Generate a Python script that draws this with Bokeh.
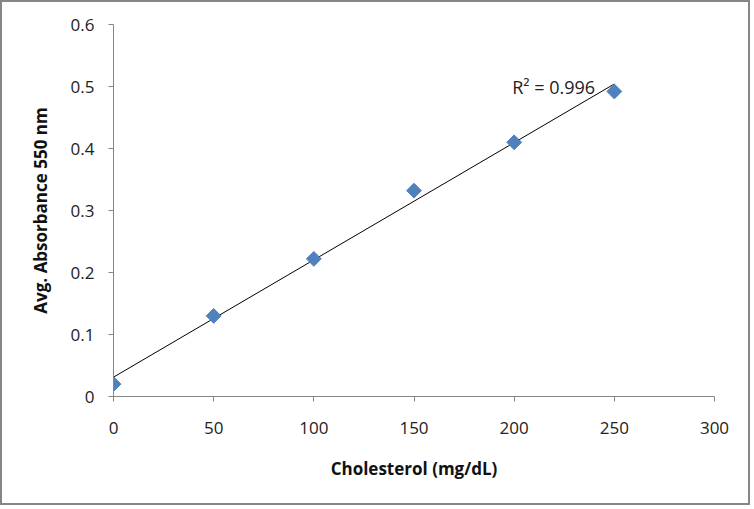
import numpy as np
from bokeh.plotting import figure
from bokeh.models import Range1d, FixedTicker, ColumnDataSource
from bokeh.core.properties import value
from bokeh.embed import file_html
from bokeh.resources import INLINE

# Data
cholesterol = [0, 50, 100, 150, 200, 250]
absorbance = [0.02, 0.13, 0.222, 0.332, 0.41, 0.492]
x_ticks = [0, 50, 100, 150, 200, 250, 300]
y_ticks = [0, 0.1, 0.2, 0.3, 0.4, 0.5, 0.6]
r2_label = "R² = 0.996"

FONT = "Open Sans"
AXIS_COLOR = "#868686"
MARKER_COLOR = "#4F81BD"

# Linear trendline fitted to the data
slope, intercept = np.polyfit(cholesterol, absorbance, 1)
trend_x = [min(cholesterol), max(cholesterol)]
trend_y = [slope * v + intercept for v in trend_x]

p = figure(width=750, height=505, output_backend="svg", toolbar_location=None,
           x_range=Range1d(0, 300), y_range=Range1d(0, 0.6),
           min_border_left=111, min_border_right=38, min_border_top=22, min_border_bottom=111)
p.styles = {"border": "2px solid #868686"}
p.outline_line_color = None
p.xgrid.visible = False
p.ygrid.visible = False
p.background_fill_color = "white"
p.border_fill_color = "white"

p.line(trend_x, trend_y, line_color="black", line_width=1)
src = ColumnDataSource(dict(x=cholesterol, y=absorbance))
p.scatter("x", "y", source=src, marker="square", angle=np.pi / 4, size=10.5,
          fill_color=MARKER_COLOR, line_color=MARKER_COLOR)

p.text(x=[199], y=[0.5], text=[r2_label], text_font=value(FONT), text_font_size="18px",
       text_align="left", text_baseline="middle", text_color="#222222")

for ax in (p.xaxis[0], p.yaxis[0]):
    ax.axis_line_color = AXIS_COLOR
    ax.major_tick_line_color = AXIS_COLOR
    ax.major_tick_out = 5
    ax.major_tick_in = 0
    ax.minor_tick_line_color = None
    ax.major_label_text_font = FONT
    ax.major_label_text_font_size = "17px"
    ax.major_label_text_color = "#222222"
    ax.axis_label_text_font = FONT
    ax.axis_label_text_font_size = "17px"
    ax.axis_label_text_font_style = "bold"
    ax.axis_label_text_color = "#111111"

p.xaxis.ticker = FixedTicker(ticks=x_ticks)
p.yaxis.ticker = FixedTicker(ticks=y_ticks)
p.yaxis.major_label_overrides = {0: "0"}
p.xaxis.axis_label = "Cholesterol (mg/dL)"
p.yaxis.axis_label = "Avg. Absorbance 550 nm"
p.xaxis.major_label_standoff = 20
p.xaxis.axis_label_standoff = 20
p.yaxis.major_label_standoff = 14
p.yaxis.axis_label_standoff = 16

open("out.html", "w").write(file_html(p, INLINE))
